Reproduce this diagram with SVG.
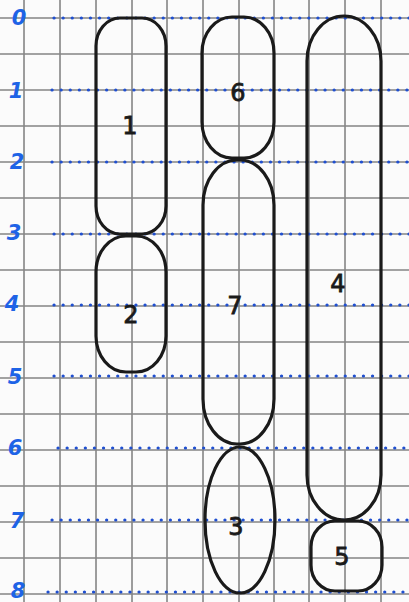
<svg xmlns="http://www.w3.org/2000/svg" width="409" height="602" viewBox="0 0 409 602">
<style>
.grid{stroke:#858585;stroke-width:1.6;fill:none}
.dot{stroke:#1f4fd0;stroke-width:3.2;stroke-linecap:round;stroke-dasharray:0.1 9;fill:none}
.num{fill:#1e63e6;font-family:"DejaVu Sans",sans-serif;font-size:21px;font-weight:bold;font-style:italic;text-anchor:middle}
.shape{fill:none;stroke:#1a1a1a;stroke-width:3.2}
.lbl{fill:#1a1a1a;stroke:#1a1a1a;stroke-width:0.8;font-family:"DejaVu Sans",sans-serif;font-size:24px;text-anchor:middle}
</style>
<rect width="409" height="602" fill="#fbfbfb"/>
<g id="grid">
<path class="grid" d="M24 0V602M60 0V602M96 0V602M132 0V602M167 0V602M203 0V602M239 0V602M274 0V602M309 0V602M345 0V602M381 0V602"/>
<path class="grid" d="M0 18H409M0 54H409M0 90H409M0 126H409M0 162H409M0 198H409M0 234H409M0 270H409M0 306H409M0 342H409M0 378H409M0 414H409M0 450H409M0 486H409M0 522H409M0 558H409M0 594H409"/>
</g>
<g id="dotted">
<path class="dot" d="M54 18H409M52 90H409M52 162H409M54 234H409M54 305H409M54 376H409M58 448H409M52 520H409M48 592H409"/>
</g>
<g id="axis">
<text class="num" x="19" y="25">0</text>
<text class="num" x="16" y="98">1</text>
<text class="num" x="17" y="169">2</text>
<text class="num" x="14" y="240">3</text>
<text class="num" x="12" y="311">4</text>
<text class="num" x="15" y="384">5</text>
<text class="num" x="15" y="455">6</text>
<text class="num" x="17" y="528">7</text>
<text class="num" x="18" y="598">8</text>
</g>
<g id="node1"><rect class="shape" x="96" y="18" width="70" height="216" rx="24" ry="28"/><text class="lbl" x="130" y="134">1</text></g>
<g id="node2"><rect class="shape" x="96" y="236" width="70" height="136" rx="30" ry="36"/><text class="lbl" x="131" y="323">2</text></g>
<g id="node6"><rect class="shape" x="202" y="17" width="72" height="141" rx="30" ry="36"/><text class="lbl" x="238" y="101">6</text></g>
<g id="node7"><rect class="shape" x="203" y="160" width="71" height="284" rx="34" ry="45"/><text class="lbl" x="235" y="314">7</text></g>
<g id="node3"><ellipse class="shape" cx="240" cy="520" rx="35" ry="73"/><text class="lbl" x="236" y="535">3</text></g>
<g id="node4"><rect class="shape" x="307" y="16" width="74" height="504" rx="37" ry="45"/><text class="lbl" x="338" y="292">4</text></g>
<g id="node5"><rect class="shape" x="311" y="521" width="71" height="70" rx="24" ry="26"/><text class="lbl" x="342" y="565">5</text></g>
</svg>
